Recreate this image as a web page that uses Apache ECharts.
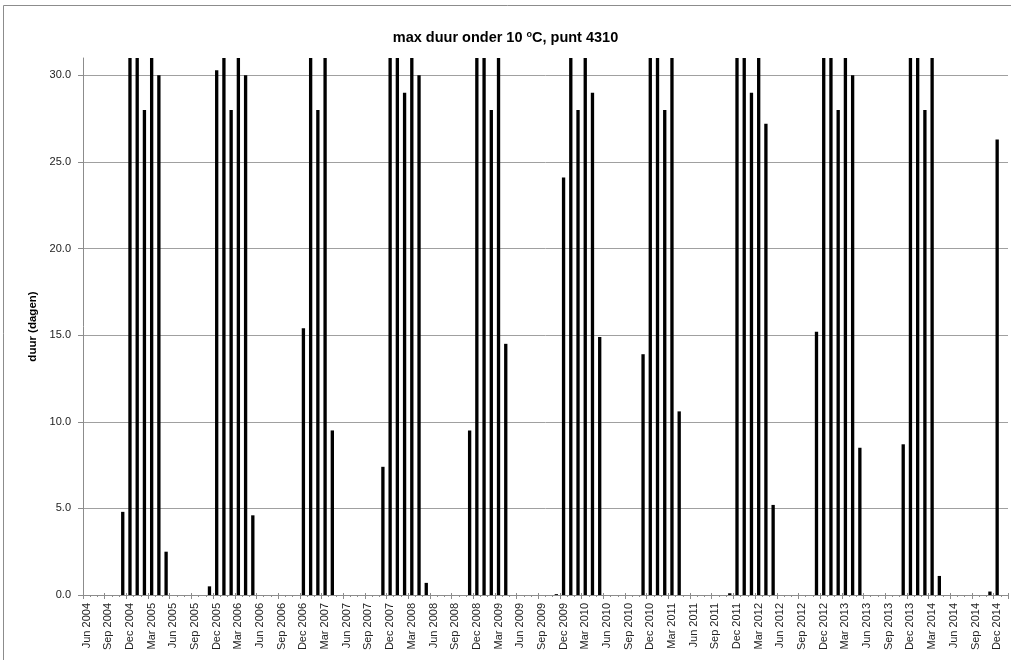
<!DOCTYPE html>
<html>
<head>
<meta charset="utf-8">
<script src="https://cdn.jsdelivr.net/npm/echarts@6/dist/echarts.min.js"></script>
<style>html,body{margin:0;padding:0;background:#fff;}#c{width:1011px;height:660px;}</style>
</head>
<body>
<div id="c"></div>
<script>
// Categories: monthly, Jun 2004 .. Jan 2015
const monthNames = ['Jan','Feb','Mar','Apr','May','Jun','Jul','Aug','Sep','Oct','Nov','Dec'];
const startYear = 2004, startMonth = 5, monthCount = 128;
const categories = [];
for (let i = 0; i < monthCount; i++) {
  const m = (startMonth + i) % 12;
  const y = startYear + Math.floor((startMonth + i) / 12);
  categories.push(monthNames[m] + ' ' + y);
}

// max duur onder 10 °C (dagen), per maand
const v2004 = [0, 0, 0, 0, 0, 4.8, 31];                                   // Jun-Dec 2004
const v2005 = [31, 28, 31, 30, 2.5, 0, 0, 0, 0, 0, 0.5, 30.3];
const v2006 = [31, 28, 31, 30, 4.6, 0, 0, 0, 0, 0, 0, 15.4];
const v2007 = [31, 28, 31, 9.5, 0, 0, 0, 0, 0, 0, 7.4, 31];
const v2008 = [31, 29, 31, 30, 0.7, 0, 0, 0, 0, 0, 9.5, 31];
const v2009 = [31, 28, 31, 14.5, 0, 0, 0, 0, 0, 0, 0.05, 24.1];
const v2010 = [31, 28, 31, 29, 14.9, 0, 0, 0, 0, 0, 13.9, 31];
const v2011 = [31, 28, 31, 10.6, 0, 0, 0, 0, 0, 0, 0.1, 31];
const v2012 = [31, 29, 31, 27.2, 5.2, 0, 0, 0, 0, 0, 15.2, 31];
const v2013 = [31, 28, 31, 30, 8.5, 0, 0, 0, 0, 0, 8.7, 31];
const v2014 = [31, 28, 31, 1.1, 0, 0, 0, 0, 0, 0, 0.2, 26.3];
const v2015 = [0];                                                         // Jan 2015
const values = [].concat(v2004, v2005, v2006, v2007, v2008, v2009, v2010, v2011, v2012, v2013, v2014, v2015);

const yTicks = [0, 5, 10, 15, 20, 25, 30];
const titleText = 'max duur onder 10 {s|o}C, punt 4310';
const yName = 'duur (dagen)';

const font = 'Liberation Sans, Arial, sans-serif';
const chart = echarts.init(document.getElementById('c'), null, {renderer: 'canvas'});
chart.setOption({
  animation: false,
  backgroundColor: '#fff',
  title: {
    text: titleText,
    left: 'center',
    top: 25,
    textStyle: {
      fontFamily: font, fontSize: 14.5, fontWeight: 'bold', color: '#000',
      rich: { s: { fontFamily: font, fontSize: 9, fontWeight: 'bold', color: '#000', verticalAlign: 'top', padding: [0, 0, 6, 0] } }
    }
  },
  graphic: [{
    type: 'rect', silent: true, z: -1,
    shape: { x: 3.5, y: 5.5, width: 1100, height: 800 },
    style: { fill: 'none', stroke: '#8c8c8c', lineWidth: 1 }
  }],
  grid: { left: 83, right: 3, top: 58, bottom: 65 },
  xAxis: [{
    type: 'category',
    data: categories,
    position: 'bottom',
    axisLine: { show: true, lineStyle: { color: '#8c8c8c', width: 1 } },
    axisTick: { show: true, interval: 2, length: 4, lineStyle: { color: '#8c8c8c' } },
    axisLabel: { interval: 2, rotate: 90, margin: 8, fontFamily: font, fontSize: 11, color: '#222' },
    splitLine: { show: false }
  }, {
    type: 'category',
    data: categories,
    position: 'bottom',
    axisLine: { show: false },
    axisTick: { show: true, interval: 0, length: 2, lineStyle: { color: '#8c8c8c' } },
    axisLabel: { show: false },
    splitLine: { show: false }
  }, {
    type: 'category',
    data: categories,
    position: 'bottom',
    axisLine: { show: false },
    axisTick: { show: true, interval: 2, inside: true, length: 2, lineStyle: { color: '#8c8c8c' } },
    axisLabel: { show: false },
    splitLine: { show: false }
  }],
  yAxis: {
    type: 'value',
    min: 0, max: 31, interval: 5,
    name: yName,
    nameLocation: 'middle',
    nameGap: 44,
    nameTextStyle: { fontFamily: font, fontSize: 11.5, fontWeight: 'bold', color: '#000' },
    axisLine: { show: true, lineStyle: { color: '#8c8c8c', width: 1 } },
    axisTick: { show: true, length: 5, customValues: yTicks, lineStyle: { color: '#8c8c8c' } },
    axisLabel: {
      customValues: yTicks,
      margin: 12, fontFamily: font, fontSize: 11, color: '#222',
      formatter: function (v) { return v > 30 ? '' : v.toFixed(1); }
    },
    splitLine: { show: true, lineStyle: { color: '#a0a0a0', width: 1 } }
  },
  series: [{
    type: 'bar',
    data: values,
    xAxisIndex: 0,
    barWidth: '46%',
    itemStyle: { color: '#000' }
  }]
});
</script>
</body>
</html>
